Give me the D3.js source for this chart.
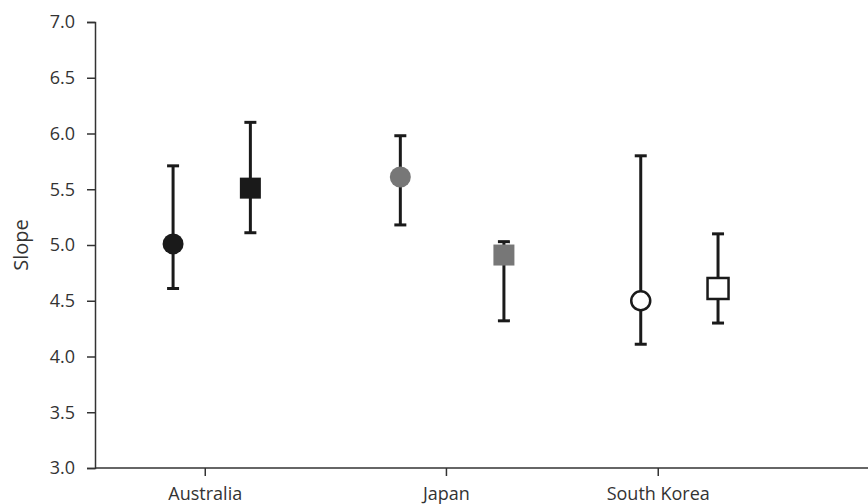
<!DOCTYPE html>
<html>
<head>
<meta charset="utf-8">
<script src="https://cdn.jsdelivr.net/npm/d3@7"></script>
<style>
  body { margin: 0; background: #fff; }
  svg { display: block; font-family: "Open Sans", sans-serif; }
</style>
</head>
<body>
<svg width="868" height="504"></svg>
<script>
// categories and where they sit on the x axis (0-100 units along the axis)
var categories = ["Australia", "Japan", "South Korea"];
var categoryPos = [14.2, 45.4, 72.8];

// series: circles and squares, one point per category
var circleX = [10.1, 39.5, 70.6];
var circleMean = [5.01, 5.61, 4.50];
var circleLow = [4.61, 5.18, 4.11];
var circleHigh = [5.71, 5.98, 5.80];
var circleFill = ["#1a1a1a", "#777777", "#ffffff"];

var squareX = [20.1, 52.9, 80.6];
var squareMean = [5.51, 4.91, 4.61];
var squareLow = [5.11, 4.32, 4.30];
var squareHigh = [6.10, 5.03, 5.10];
var squareFill = ["#1a1a1a", "#777777", "#ffffff"];

var yTicks = [3.0, 3.5, 4.0, 4.5, 5.0, 5.5, 6.0, 6.5, 7.0];

var margin = {top: 22, right: 0, bottom: 36, left: 95},
    width = 868 - margin.left - margin.right,
    height = 504 - margin.top - margin.bottom,
    ink = "#1a1a1a",
    axisColor = "#333",
    fontFamily = "'Open Sans', sans-serif";

var svg = d3.select("svg");
var g = svg.append("g").attr("transform", "translate(" + margin.left + "," + margin.top + ")");

var xScale = d3.scaleLinear().domain([0, 100]).range([0, width]);
var yScale = d3.scaleLinear().domain([3, 7]).range([height, 0]);

// y axis
var yAxis = g.append("g")
    .call(d3.axisLeft(yScale).tickValues(yTicks).tickFormat(d3.format(".1f")).tickSize(8).tickPadding(12));
yAxis.attr("font-family", fontFamily).attr("font-size", 18);
yAxis.select(".domain").attr("stroke", axisColor).attr("stroke-width", 1.5);
yAxis.selectAll(".tick line").attr("stroke", axisColor).attr("stroke-width", 1.5);
yAxis.selectAll(".tick text").attr("fill", "#333");

// x axis
var xAxis = g.append("g")
    .attr("transform", "translate(0," + height + ")")
    .call(d3.axisBottom(xScale).tickValues(categoryPos)
        .tickFormat(function (d, i) { return categories[i]; })
        .tickSize(8).tickSizeOuter(0).tickPadding(11));
xAxis.attr("font-family", fontFamily).attr("font-size", 18);
xAxis.select(".domain").attr("stroke", axisColor).attr("stroke-width", 1.5)
    .attr("d", "M0,0H" + width);
xAxis.selectAll(".tick line").attr("stroke", axisColor).attr("stroke-width", 1.5);
xAxis.selectAll(".tick text").attr("fill", "#333");

// y label
svg.append("text")
    .attr("transform", "translate(28," + (margin.top + height / 2) + ") rotate(-90)")
    .attr("text-anchor", "middle")
    .attr("fill", "#333")
    .attr("font-family", fontFamily)
    .attr("font-size", 20)
    .text("Slope");

function buildSeries(xs, means, lows, highs, fills) {
    return xs.map(function (x, i) {
        return {x: x, mean: means[i], low: lows[i], high: highs[i], fill: fills[i]};
    });
}

var circles = buildSeries(circleX, circleMean, circleLow, circleHigh, circleFill);
var squares = buildSeries(squareX, squareMean, squareLow, squareHigh, squareFill);
var capHalf = 6;

function drawErrorBars(data) {
    var eb = g.append("g").selectAll("g").data(data).enter().append("g");
    eb.append("line")
        .attr("x1", function (d) { return xScale(d.x); })
        .attr("x2", function (d) { return xScale(d.x); })
        .attr("y1", function (d) { return yScale(d.low); })
        .attr("y2", function (d) { return yScale(d.high); })
        .attr("stroke", ink).attr("stroke-width", 3);
    ["low", "high"].forEach(function (k) {
        eb.append("line")
            .attr("x1", function (d) { return xScale(d.x) - capHalf; })
            .attr("x2", function (d) { return xScale(d.x) + capHalf; })
            .attr("y1", function (d) { return yScale(d[k]); })
            .attr("y2", function (d) { return yScale(d[k]); })
            .attr("stroke", ink).attr("stroke-width", 3);
    });
}

drawErrorBars(circles);
drawErrorBars(squares);

g.append("g").selectAll("circle").data(circles).enter().append("circle")
    .attr("cx", function (d) { return xScale(d.x); })
    .attr("cy", function (d) { return yScale(d.mean); })
    .attr("r", function (d) { return d.fill === "#ffffff" ? 9.5 : 10.5; })
    .attr("fill", function (d) { return d.fill; })
    .attr("stroke", function (d) { return d.fill === "#ffffff" ? ink : "none"; })
    .attr("stroke-width", 2.5);

var sq = 21;
g.append("g").selectAll("rect").data(squares).enter().append("rect")
    .attr("x", function (d) { return xScale(d.x) - sq / 2; })
    .attr("y", function (d) { return yScale(d.mean) - sq / 2; })
    .attr("width", sq).attr("height", sq)
    .attr("fill", function (d) { return d.fill; })
    .attr("stroke", function (d) { return d.fill === "#ffffff" ? ink : "none"; })
    .attr("stroke-width", 2.5);
</script>
</body>
</html>
